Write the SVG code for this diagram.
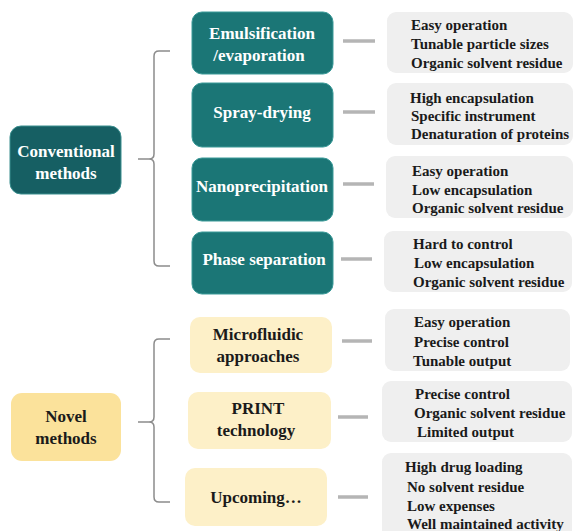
<svg xmlns="http://www.w3.org/2000/svg" width="574" height="531" viewBox="0 0 574 531">
<style>
.teal{fill:#1b7676;stroke:#3a9a98;stroke-width:1}
.conv{fill:#165f63;stroke:#3a8f8f;stroke-width:1}
.novel{fill:#fbe29b}
.ybox{fill:#fdf0c8}
.gbox{fill:#efefef}
.tw{font-family:"Liberation Serif",serif;font-weight:bold;font-size:17px;fill:#ffffff;text-anchor:middle}
.tb{font-family:"Liberation Serif",serif;font-weight:bold;font-size:17px;fill:#1a1a1a;text-anchor:middle}
.tg{font-family:"Liberation Serif",serif;font-weight:bold;font-size:15px;fill:#1a1a1a}
.brace{fill:none;stroke:#8c8c8c;stroke-width:1.5}
.dash{stroke:#b5b5b5;stroke-width:3.5}
</style>
<rect width="574" height="531" fill="#ffffff"/>
<g id="connectors">
<path class="brace" d="M170,51 H159 Q154,51 154,56 V154 Q154,159 149,159 H138 M149,159 Q154,159 154,164 V261 Q154,266 159,266 H170"/>
<path class="brace" d="M170,339 H159 Q154,339 154,344 V417 Q154,422 149,422 H138 M149,422 Q154,422 154,427 V497 Q154,502 159,502 H170"/>
<line class="dash" x1="343" y1="41" x2="375" y2="41"/>
<line class="dash" x1="343" y1="112" x2="375" y2="112"/>
<line class="dash" x1="343" y1="184" x2="374" y2="184"/>
<line class="dash" x1="341" y1="259" x2="372" y2="259"/>
<line class="dash" x1="342" y1="341" x2="372" y2="341"/>
<line class="dash" x1="338" y1="417" x2="368" y2="417"/>
<line class="dash" x1="338" y1="497" x2="368" y2="497"/>
</g>
<g id="conventional">
<rect class="conv" x="10" y="126" width="111" height="68" rx="11"/>
<text class="tw" x="66" y="157">Conventional</text>
<text class="tw" x="66" y="179">methods</text>
</g>
<g id="emulsification">
<rect class="teal" x="192" y="12" width="141" height="62" rx="10"/>
<text class="tw" x="262" y="39">Emulsification</text>
<text class="tw" x="259" y="61">/evaporation</text>
</g>
<g id="spray">
<rect class="teal" x="192" y="83" width="141" height="64" rx="10"/>
<text class="tw" x="262" y="118">Spray-drying</text>
</g>
<g id="nano">
<rect class="teal" x="192" y="158" width="141" height="63" rx="10"/>
<text class="tw" x="262" y="192">Nanoprecipitation</text>
</g>
<g id="phase">
<rect class="teal" x="192" y="232" width="141" height="62" rx="10"/>
<text class="tw" x="264" y="265">Phase separation</text>
</g>
<g id="emul-props">
<rect class="gbox" x="387" y="12" width="186" height="61" rx="9"/>
<text class="tg" x="411" y="30">Easy operation</text>
<text class="tg" x="411" y="49">Tunable particle sizes</text>
<text class="tg" x="411" y="68">Organic solvent residue</text>
</g>
<g id="spray-props">
<rect class="gbox" x="387" y="83" width="186" height="62" rx="9"/>
<text class="tg" x="410" y="103">High encapsulation</text>
<text class="tg" x="411" y="121">Specific instrument</text>
<text class="tg" x="411" y="139">Denaturation of proteins</text>
</g>
<g id="nano-props">
<rect class="gbox" x="386" y="156" width="187" height="62" rx="9"/>
<text class="tg" x="412" y="176">Easy operation</text>
<text class="tg" x="412" y="195">Low encapsulation</text>
<text class="tg" x="412" y="213">Organic solvent residue</text>
</g>
<g id="phase-props">
<rect class="gbox" x="384" y="231" width="188" height="61" rx="9"/>
<text class="tg" x="413" y="249">Hard to control</text>
<text class="tg" x="414" y="268">Low encapsulation</text>
<text class="tg" x="413" y="287">Organic solvent residue</text>
</g>
<g id="novel">
<rect class="novel" x="11" y="393" width="110" height="68" rx="11"/>
<text class="tb" x="66" y="422">Novel</text>
<text class="tb" x="66" y="444">methods</text>
</g>
<g id="microfluidic">
<rect class="ybox" x="190" y="317" width="142" height="56" rx="10"/>
<text class="tb" x="258" y="340">Microfluidic</text>
<text class="tb" x="258" y="362">approaches</text>
</g>
<g id="print">
<rect class="ybox" x="188" y="392" width="143" height="57" rx="10"/>
<text class="tb" x="258" y="414">PRINT</text>
<text class="tb" x="256" y="436">technology</text>
</g>
<g id="upcoming">
<rect class="ybox" x="185" y="468" width="142" height="58" rx="10"/>
<text class="tb" x="256" y="503">Upcoming…</text>
</g>
<g id="micro-props">
<rect class="gbox" x="385" y="309" width="185" height="62" rx="9"/>
<text class="tg" x="414" y="327">Easy operation</text>
<text class="tg" x="414" y="347">Precise control</text>
<text class="tg" x="413" y="366">Tunable output</text>
</g>
<g id="print-props">
<rect class="gbox" x="382" y="381" width="190" height="61" rx="9"/>
<text class="tg" x="415" y="399">Precise control</text>
<text class="tg" x="414" y="418">Organic solvent residue</text>
<text class="tg" x="417" y="437">Limited output</text>
</g>
<g id="upcoming-props">
<rect class="gbox" x="382" y="453" width="190" height="90" rx="9"/>
<text class="tg" x="405" y="472">High drug loading</text>
<text class="tg" x="407" y="492">No solvent residue</text>
<text class="tg" x="407" y="511">Low expenses</text>
<text class="tg" x="407" y="529">Well maintained activity</text>
</g>
</svg>
